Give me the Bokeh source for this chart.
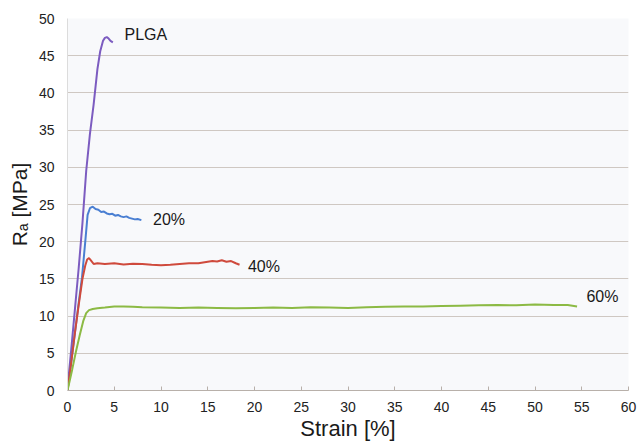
from bokeh.plotting import figure
from bokeh.models import Range1d, ColumnDataSource
from bokeh.core.properties import value
from bokeh.embed import file_html
from bokeh.resources import INLINE

# ---- data ----
plga_strain = [0, 0.4, 0.8, 1.2, 1.6, 2.0, 2.4, 2.8, 3.2, 3.5, 3.8, 4.0, 4.2, 4.4, 4.6, 4.85]
plga_stress = [0.3, 5.5, 11.0, 16.5, 22.5, 29.5, 34.5, 38.5, 43.2, 45.6, 47.0, 47.4, 47.5, 47.3, 47.0, 46.8]

p20_strain = [0, 0.4, 0.8, 1.2, 1.55, 1.9, 2.15, 2.4, 2.7, 3.0, 3.3, 3.6, 3.9, 4.2, 4.5, 4.8,
              5.1, 5.4, 5.7, 6.0, 6.3, 6.6, 6.9, 7.2, 7.5, 7.9]
p20_stress = [0, 3.8, 7.8, 11.8, 15.2, 20.0, 23.6, 24.5, 24.7, 24.4, 24.3, 24.0, 24.05, 23.8, 23.7, 23.75,
              23.5, 23.6, 23.4, 23.3, 23.4, 23.2, 23.1, 23.0, 23.05, 22.9]

p40_strain = [0, 0.4, 0.8, 1.2, 1.6, 1.9, 2.1, 2.3, 2.5, 2.8, 3.2, 4, 5, 6, 7, 8, 9, 10, 11, 12, 13,
              14, 15, 15.5, 16, 16.5, 17, 17.5, 18, 18.4]
p40_stress = [0, 3.8, 7.8, 11.5, 15.0, 16.8, 17.6, 17.8, 17.5, 17.0, 17.1, 17.0, 17.1, 16.95, 17.05,
              17.0, 16.9, 16.85, 16.9, 17.0, 17.1, 17.1, 17.3, 17.4, 17.35, 17.5, 17.3, 17.4, 17.1, 16.9]

p60_strain = [0, 0.5, 0.9, 1.3, 1.7, 2.0, 2.3, 2.7, 3.2, 4, 5, 6, 7, 8, 10, 12, 14, 16, 18, 20, 22,
              24, 26, 28, 30, 32, 34, 36, 38, 40, 42, 44, 46, 48, 50, 52, 53.5, 54.5]
p60_stress = [0, 2.8, 5.2, 7.4, 9.4, 10.4, 10.8, 10.95, 11.05, 11.15, 11.3, 11.3, 11.25, 11.2, 11.15,
              11.1, 11.15, 11.1, 11.05, 11.1, 11.15, 11.1, 11.2, 11.15, 11.1, 11.2, 11.25, 11.3, 11.3,
              11.35, 11.4, 11.45, 11.5, 11.45, 11.55, 11.5, 11.5, 11.3]

label_text = ["PLGA", "20%", "40%", "60%"]
label_x = [6.1, 9.15, 19.3, 55.5]
label_y = [47.8, 23.0, 16.6, 12.6]

x_ticks = list(range(0, 61, 5))
y_ticks = list(range(0, 51, 5))

# ---- figure ----
p = figure(width=637, height=446, output_backend="svg", toolbar_location=None,
           x_range=Range1d(0, 60), y_range=Range1d(0, 50),
           min_border_left=67, min_border_right=9, min_border_top=18, min_border_bottom=56)
p.background_fill_color = "#f8f9fb"
p.border_fill_color = "white"
p.outline_line_color = None

p.xgrid.grid_line_color = None
p.ygrid.grid_line_color = "#cfc8c2"
p.ygrid.grid_line_width = 1.2
p.ygrid.ticker = y_ticks

p.xaxis.ticker = x_ticks
p.yaxis.ticker = y_ticks
p.xaxis.minor_tick_line_color = None
p.yaxis.minor_tick_line_color = None
p.xaxis.major_tick_in = 4
p.xaxis.major_tick_out = 0
p.xaxis.major_tick_line_color = "#b8b0aa"
p.xaxis.axis_line_color = "#b8b0aa"
p.xaxis.axis_line_width = 1.2
p.yaxis.major_tick_in = 0
p.yaxis.major_tick_out = 0
p.yaxis.axis_line_color = "#dcdcdc"

for ax in (p.xaxis, p.yaxis):
    ax.major_label_text_font = "Liberation Sans"
    ax.major_label_text_font_size = "14px"
    ax.major_label_text_color = "#222222"
    ax.axis_label_text_font = "Liberation Sans"
    ax.axis_label_text_font_style = "normal"
    ax.axis_label_text_color = "#1a1a1a"

p.xaxis.major_label_standoff = 11
p.yaxis.major_label_standoff = 13
p.xaxis.axis_label = "Strain [%]"
p.xaxis.axis_label_standoff = 1
p.xaxis.axis_label_text_font_size = "22px"
p.yaxis.axis_label = "Rₐ [MPa]"
p.yaxis.axis_label_standoff = 5
p.yaxis.axis_label_text_font_size = "21px"

p.line(plga_strain, plga_stress, line_color="#7c5cc0", line_width=2)
p.line(p20_strain, p20_stress, line_color="#4a7fd2", line_width=2)
p.line(p40_strain, p40_stress, line_color="#cf4a3c", line_width=2)
p.line(p60_strain, p60_stress, line_color="#8cba44", line_width=2)

src = ColumnDataSource(dict(x=label_x, y=label_y, t=label_text))
p.text(x="x", y="y", text="t", source=src, text_font=value("Liberation Sans"),
       text_font_size="16px", text_color="#1a1a1a", text_baseline="middle", text_align="left")

open("out.html", "w").write(file_html(p, INLINE))
